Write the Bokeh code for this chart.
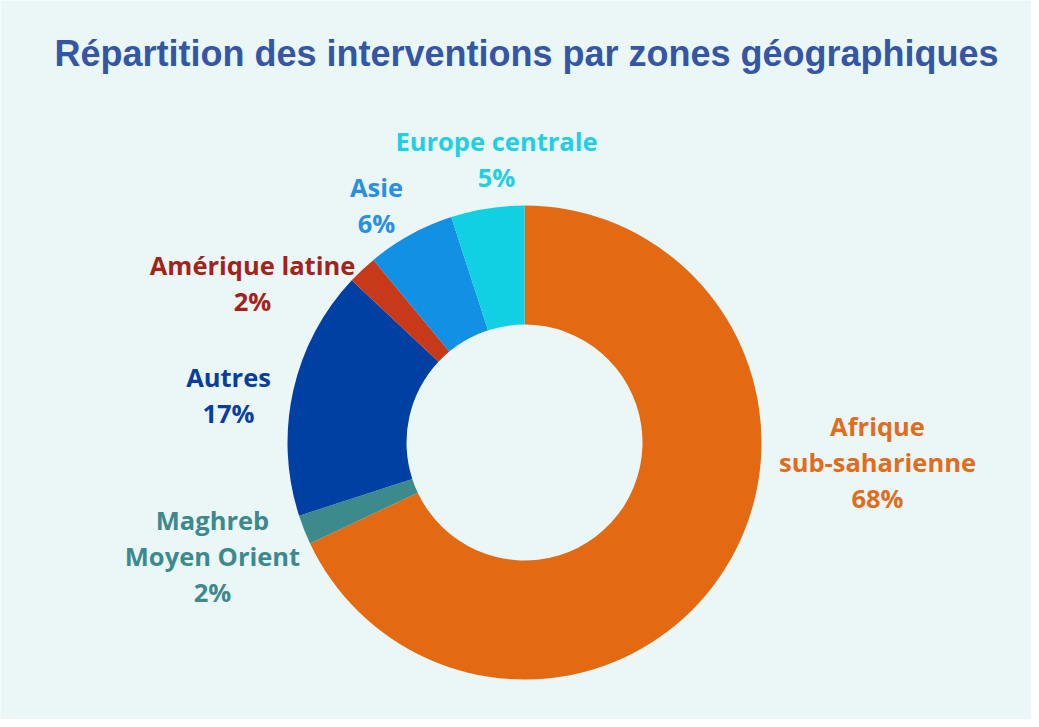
import math
from bokeh.plotting import figure
from bokeh.models import Range1d, ColumnDataSource
from bokeh.core.properties import value
from bokeh.embed import file_html
from bokeh.resources import INLINE

# ---- data ----
zones = ["Afrique sub-saharienne", "Maghreb Moyen Orient", "Autres",
         "Amérique latine", "Asie", "Europe centrale"]
percents = [68, 2, 17, 2, 6, 5]
label_lines = [["Afrique", "sub-saharienne", "68%"],
               ["Maghreb", "Moyen Orient", "2%"],
               ["Autres", "17%"],
               ["Amérique latine", "2%"],
               ["Asie", "6%"],
               ["Europe centrale", "5%"]]
title_text = "Répartition des interventions par zones géographiques"

# ---- styles / layout ----
slice_colors = ["#e36a12", "#3d8a8c", "#0040a3", "#c8391a", "#1290e3", "#12d0e3"]
label_colors = ["#e26c1e", "#3d8a8e", "#0b3d9c", "#a3221a", "#2a8fe0", "#22cfe2"]
# label block centres in picture pixels (x, y of first line)
label_anchor = [(877, 425), (212, 519), (228, 376), (252, 264), (376, 186), (496, 140)]
line_gap = 36
W, H = 1031, 719
BG = "#eaf7f6"

def px(sx):
    return sx

def py(sy):
    return H - sy

cx, cy = px(524), py(442)
r_in, r_out = 118, 237

p = figure(width=W, height=H, output_backend="svg", toolbar_location=None,
           x_range=Range1d(0, W), y_range=Range1d(0, H), min_border=0)
p.axis.visible = False
p.grid.visible = False
p.outline_line_color = None
p.background_fill_color = BG
p.border_fill_color = BG

total = sum(percents)
starts, ends = [], []
cum = 0.0
for v in percents:
    starts.append(math.pi / 2 - 2 * math.pi * cum / total)
    cum += v
    ends.append(math.pi / 2 - 2 * math.pi * cum / total)

src = ColumnDataSource(dict(x=[cx] * len(zones), y=[cy] * len(zones),
                            start=starts, end=ends, color=slice_colors, zone=zones))
p.annular_wedge(x="x", y="y", inner_radius=r_in, outer_radius=r_out,
                start_angle="start", end_angle="end", direction="clock",
                fill_color="color", line_color=None, source=src)

tx, ty, tt, tc = [], [], [], []
for lines, (ax, ay), col in zip(label_lines, label_anchor, label_colors):
    for i, ln in enumerate(lines):
        tx.append(px(ax))
        ty.append(py(ay + i * line_gap))
        tt.append(ln)
        tc.append(col)
p.text(x=tx, y=ty, text=tt, text_color=tc, text_align="center",
       text_baseline="middle", text_font=value("Open Sans"),
       text_font_style="bold", text_font_size="25.5px")

p.text(x=[px(526)], y=[py(53)], text=[title_text], text_color="#3556a5",
       text_align="center", text_baseline="middle",
       text_font=value("Liberation Sans"), text_font_style="bold",
       text_font_size="36px")

open("out.html", "w").write(file_html(p, INLINE))
